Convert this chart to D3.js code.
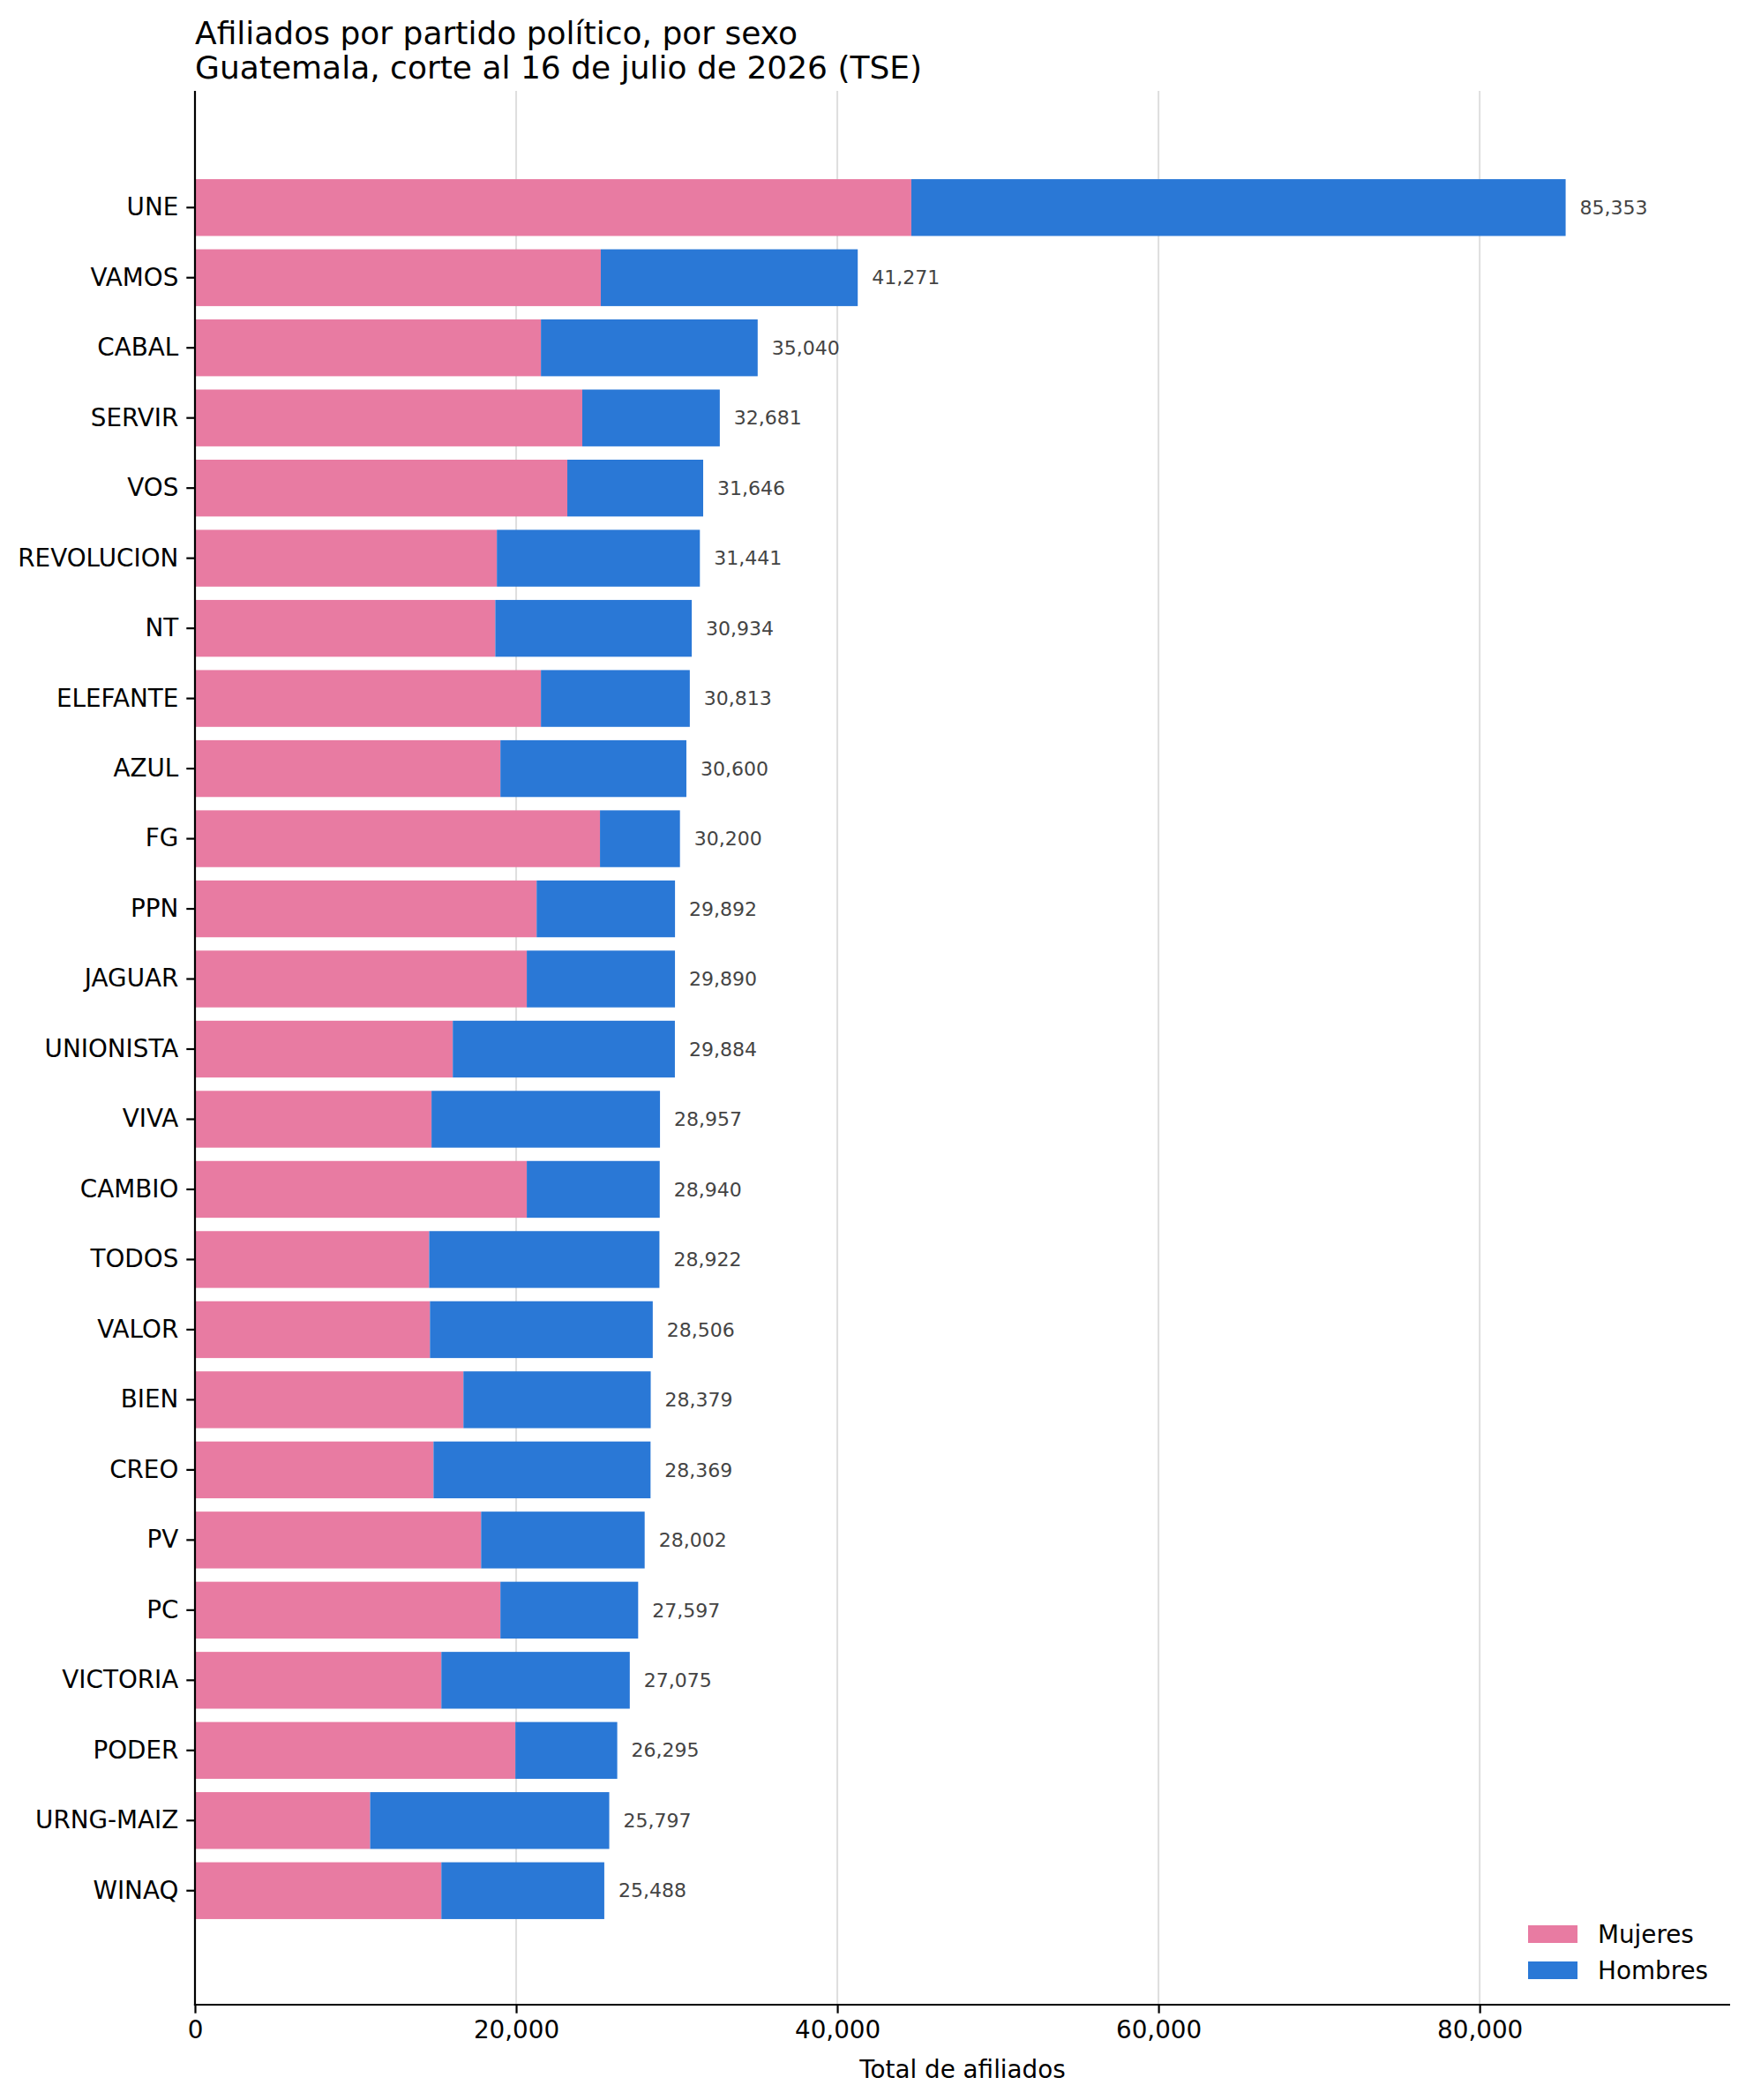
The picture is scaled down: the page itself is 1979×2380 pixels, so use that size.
<!DOCTYPE html>
<html>
<head>
<meta charset="utf-8">
<title>Afiliados por partido político, por sexo</title>
<script src="https://d3js.org/d3.v7.min.js"></script>
<style>
  body { margin: 0; background: #fff; }
  svg text { font-family: "DejaVu Sans", sans-serif; }
</style>
</head>
<body>
<svg id="chart"></svg>
<script>
// data (TSE, corte al 16 de julio de 2026)
const partidos = ["UNE", "VAMOS", "CABAL", "SERVIR", "VOS", "REVOLUCION", "NT", "ELEFANTE",
  "AZUL", "FG", "PPN", "JAGUAR", "UNIONISTA", "VIVA", "CAMBIO", "TODOS", "VALOR", "BIEN",
  "CREO", "PV", "PC", "VICTORIA", "PODER", "URNG-MAIZ", "WINAQ"];
const mujeres = [44608, 25270, 21544, 24118, 23186, 18799, 18701, 21544, 19020, 25221,
  21275, 20662, 16054, 14730, 20662, 14583, 14632, 16716, 14853, 17819, 19020, 15343,
  19951, 10907, 15343];
const hombres = [40745, 16001, 13496, 8563, 8460, 12642, 12233, 9269, 11580, 4979,
  8617, 9228, 13830, 14227, 8278, 14339, 13874, 11663, 13516, 10183, 8577, 11732,
  6344, 14890, 10145];
const totales = [85353, 41271, 35040, 32681, 31646, 31441, 30934, 30813, 30600, 30200,
  29892, 29890, 29884, 28957, 28940, 28922, 28506, 28379, 28369, 28002, 27597, 27075,
  26295, 25797, 25488];
const xTicks = [0, 20000, 40000, 60000, 80000];
const series = ["Mujeres", "Hombres"];
const colores = ["#e87ba2", "#2a78d6"];

const W = 1979, H = 2380;
const mLeft = 221, mRight = 1961, mTop = 103, mBottom = 2272;

const svg = d3.select("#chart").attr("width", W).attr("height", H);

const x = d3.scaleLinear()
  .domain([0, d3.max(totales) * 1.12])
  .range([mLeft, mRight]);
const y = d3.scaleBand()
  .domain(partidos)
  .range([mTop + 1.5, mBottom + 1.5])
  .paddingInner(0.19)
  .paddingOuter(1.24);

// grid
svg.append("g")
  .selectAll("line")
  .data(xTicks)
  .join("line")
    .attr("x1", d => x(d)).attr("x2", d => x(d))
    .attr("y1", mTop).attr("y2", mBottom)
    .attr("stroke", "#dedede")
    .attr("stroke-width", 2);

// stacked bars
const rows = partidos.map((p, i) => ({ p: p, m: mujeres[i], h: hombres[i], t: totales[i] }));
const barras = svg.append("g");
barras.selectAll(".muj")
  .data(rows)
  .join("rect")
    .attr("class", "muj")
    .attr("x", x(0))
    .attr("y", d => y(d.p))
    .attr("width", d => x(d.m) - x(0))
    .attr("height", y.bandwidth())
    .attr("fill", colores[0]);
barras.selectAll(".hom")
  .data(rows)
  .join("rect")
    .attr("class", "hom")
    .attr("x", d => x(d.m))
    .attr("y", d => y(d.p))
    .attr("width", d => x(d.m + d.h) - x(d.m))
    .attr("height", y.bandwidth())
    .attr("fill", colores[1]);

// value labels
svg.append("g")
  .selectAll("text")
  .data(rows)
  .join("text")
    .attr("x", d => x(d.m + d.h) + 16)
    .attr("y", d => y(d.p) + y.bandwidth() / 2)
    .attr("dy", "0.35em")
    .attr("font-size", 22)
    .attr("fill", "#444")
    .text(d => d3.format(",")(d.t));

// axes
const xAxis = svg.append("g")
  .attr("transform", "translate(0," + mBottom + ")")
  .call(d3.axisBottom(x).tickValues(xTicks).tickFormat(d3.format(",")).tickSize(9.7).tickPadding(9));
const yAxis = svg.append("g")
  .attr("transform", "translate(" + mLeft + ",0)")
  .call(d3.axisLeft(y).tickSize(9.7).tickPadding(9));
[xAxis, yAxis].forEach(function(a) {
  a.select(".domain").remove();
  a.selectAll(".tick line").attr("stroke", "#000").attr("stroke-width", 2.2);
  a.selectAll(".tick text").attr("font-size", 27.8).attr("fill", "#000")
    .attr("font-family", "DejaVu Sans, sans-serif");
});
// spines
svg.append("line")
  .attr("x1", mLeft).attr("x2", mLeft).attr("y1", mTop).attr("y2", mBottom + 1.1)
  .attr("stroke", "#000").attr("stroke-width", 2.2);
svg.append("line")
  .attr("x1", mLeft - 1.1).attr("x2", mRight).attr("y1", mBottom).attr("y2", mBottom)
  .attr("stroke", "#000").attr("stroke-width", 2.2);

// axis label
svg.append("text")
  .attr("x", (mLeft + mRight) / 2)
  .attr("y", 2355)
  .attr("text-anchor", "middle")
  .attr("font-size", 27.8)
  .text("Total de afiliados");

// title
svg.append("text")
  .attr("x", mLeft).attr("y", 50)
  .attr("font-size", 36)
  .text("Afiliados por partido político, por sexo");
svg.append("text")
  .attr("x", mLeft).attr("y", 89)
  .attr("font-size", 36)
  .text("Guatemala, corte al 16 de julio de 2026 (TSE)");

// legend
const leg = svg.append("g")
  .selectAll("g")
  .data(series)
  .join("g")
    .attr("transform", (d, i) => "translate(1732," + (2192 + i * 41) + ")");
leg.append("rect")
  .attr("x", 0).attr("y", -10)
  .attr("width", 56).attr("height", 20)
  .attr("fill", (d, i) => colores[i]);
leg.append("text")
  .attr("x", 79).attr("dy", "0.35em")
  .attr("font-size", 27.8)
  .text(d => d);
</script>
</body>
</html>
